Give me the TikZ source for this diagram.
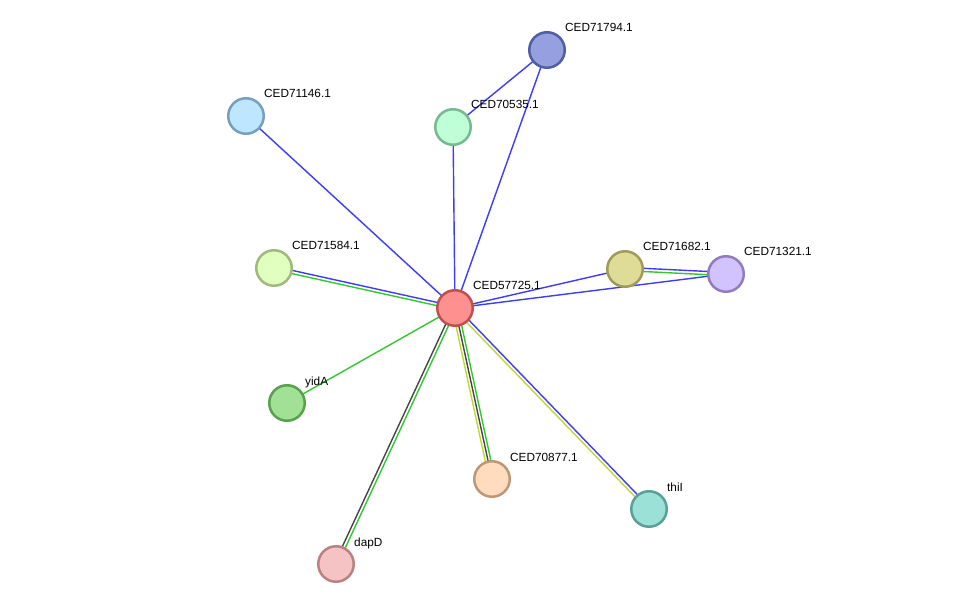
\documentclass[tikz,border=0pt]{standalone}
\usepackage{fontspec}
\setmainfont{Liberation Sans}
\usetikzlibrary{calc,backgrounds}
\definecolor{eblue}{RGB}{60,60,250}
\definecolor{egreen}{RGB}{50,200,50}
\definecolor{egray}{RGB}{70,70,70}
\definecolor{eyellow}{RGB}{195,215,50}
\definecolor{fA}{RGB}{255,144,144}\definecolor{bA}{RGB}{190,80,80}
\definecolor{fB}{RGB}{150,160,225}\definecolor{bB}{RGB}{80,95,160}
\definecolor{fC}{RGB}{190,255,215}\definecolor{bC}{RGB}{120,185,145}
\definecolor{fD}{RGB}{190,230,255}\definecolor{bD}{RGB}{120,160,190}
\definecolor{fE}{RGB}{225,255,190}\definecolor{bE}{RGB}{160,185,125}
\definecolor{fF}{RGB}{222,220,150}\definecolor{bF}{RGB}{160,155,90}
\definecolor{fG}{RGB}{210,195,255}\definecolor{bG}{RGB}{145,125,190}
\definecolor{fH}{RGB}{160,225,150}\definecolor{bH}{RGB}{90,160,80}
\definecolor{fI}{RGB}{255,220,190}\definecolor{bI}{RGB}{190,150,120}
\definecolor{fJ}{RGB}{155,225,215}\definecolor{bJ}{RGB}{90,160,150}
\definecolor{fK}{RGB}{245,195,195}\definecolor{bK}{RGB}{185,130,130}
\newcommand\edgeoff[4]{\draw[edgeline,#4] ($(#1.center)!#3!90:(#2.center)$) -- ($(#2.center)!#3!-90:(#1.center)$);}
\begin{document}
\begin{tikzpicture}[x=1pt,y=-1pt,
  prot/.style={circle,draw,line width=2.5pt,minimum size=35.5pt,inner sep=0pt},
  lab/.style={anchor=base west,font=\fontsize{11.8}{12}\selectfont,inner sep=0pt},
  edgeline/.style={line width=1.4pt}]
\useasboundingbox (0,0) rectangle (976,609);
\node[prot,fill=fA,draw=bA] (c) at (455,308) {};
\node[prot,fill=fB,draw=bB] (n794) at (547,50) {};
\node[prot,fill=fC,draw=bC] (n535) at (453,127) {};
\node[prot,fill=fD,draw=bD] (n146) at (246,116) {};
\node[prot,fill=fE,draw=bE] (n584) at (274,268) {};
\node[prot,fill=fF,draw=bF] (n682) at (625,269) {};
\node[prot,fill=fG,draw=bG] (n321) at (726,274) {};
\node[prot,fill=fH,draw=bH] (yid) at (287,403) {};
\node[prot,fill=fI,draw=bI] (n877) at (492,479) {};
\node[prot,fill=fJ,draw=bJ] (thi) at (649,509) {};
\node[prot,fill=fK,draw=bK] (dap) at (336,564) {};
\node[lab] (lc) at (473,290) {CED57725.1};
\node[lab] (l794) at (565,32) {CED71794.1};
\node[lab] (l535) at (471,109) {CED70535.1};
\node[lab] (l146) at (264,98) {CED71146.1};
\node[lab] (l584) at (292,250) {CED71584.1};
\node[lab] (l682) at (643,251) {CED71682.1};
\node[lab] (l321) at (744,256) {CED71321.1};
\node[lab] (lyid) at (305,385) {yidA};
\node[lab] (l877) at (510,461) {CED70877.1};
\node[lab] (lthi) at (667,491) {thiI};
\node[lab] (ldap) at (354,546) {dapD};
\begin{scope}[on background layer]
\fill[white] (0,0) rectangle (976,609);
\draw[edgeline,eblue] (c.center) -- (n146.center);
\draw[edgeline,eblue] (c.center) -- (n535.center);
\draw[edgeline,eblue] (c.center) -- (n794.center);
\draw[edgeline,eblue] (n535.center) -- (n794.center);
\draw[edgeline,eblue] (c.center) -- (n682.center);
\draw[edgeline,eblue] (c.center) -- (n321.center);
\draw[edgeline,egreen] (c.center) -- (yid.center);
\edgeoff{c}{n584}{-1.6pt}{eblue}
\edgeoff{c}{n584}{1.6pt}{egreen}
\edgeoff{n682}{n321}{1.6pt}{eblue}
\edgeoff{n682}{n321}{-1.6pt}{egreen}
\edgeoff{c}{dap}{-1.6pt}{egray}
\edgeoff{c}{dap}{1.6pt}{egreen}
\edgeoff{c}{n877}{-2.8pt}{eyellow}
\edgeoff{c}{n877}{0pt}{egray}
\edgeoff{c}{n877}{2.8pt}{egreen}
\edgeoff{c}{thi}{1.6pt}{eblue}
\edgeoff{c}{thi}{-1.6pt}{eyellow}
\end{scope}
\end{tikzpicture}
\end{document}
